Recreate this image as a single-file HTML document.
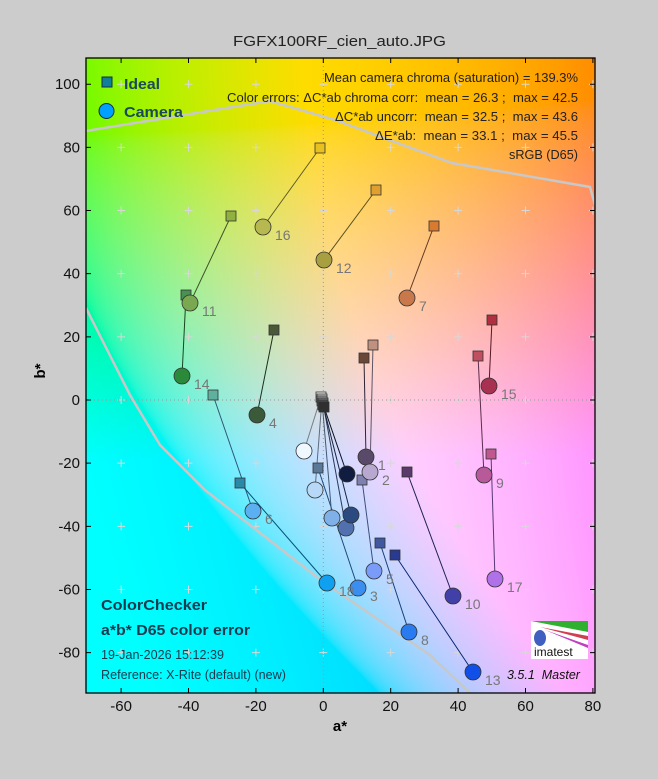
<!DOCTYPE html>
<html><head><meta charset="utf-8"><style>
html,body{margin:0;padding:0;background:#cccccc;}
#wrap{position:relative;width:658px;height:779px;overflow:hidden;font-family:"Liberation Sans",sans-serif;}
#bg{position:absolute;left:86px;top:58px;width:509px;height:635px;
background:linear-gradient(135deg,#80ff20 0%,#f8ff40 30%,#ffe0c0 50%,#ff90ff 100%);}
svg{position:absolute;left:0;top:0;}
svg text{white-space:pre;}
</style></head><body><div id="wrap">
<canvas id="bg" width="509" height="635"></canvas>
<svg width="658" height="779" viewBox="0 0 658 779" font-family="Liberation Sans, sans-serif">
<g id="grid" stroke="#d8d8d8" stroke-width="1"></g>
<line x1="323.3" y1="58" x2="323.3" y2="693" stroke="#999" stroke-dasharray="1,3"/>
<line x1="86" y1="400" x2="595" y2="400" stroke="#999" stroke-dasharray="1,3"/>
<polyline fill="none" stroke="#c8c8c8" stroke-width="2.5" points="86,131 270,101 335,120 452,163 590,187 595,205"/>
<polyline fill="none" stroke="#c8c8c8" stroke-width="2.5" points="86,308 130,395 160,445 205,490 250,525 322,581 430,655 470,693"/>
<g id="data"></g>
<rect x="86" y="58" width="509" height="635" fill="none" stroke="#000" stroke-width="1.3"/>
<g id="ticks" stroke="#000" stroke-width="1"></g>
<g id="tl" font-size="15" fill="#111"></g>
<text x="233" y="46" font-size="15" fill="#222" textLength="213" lengthAdjust="spacingAndGlyphs">FGFX100RF_cien_auto.JPG</text>
<g font-size="13" fill="#222" text-anchor="end">
<text x="578" y="82" textLength="254" lengthAdjust="spacingAndGlyphs">Mean camera chroma (saturation) = 139.3%</text>
<text x="578" y="102" textLength="351" lengthAdjust="spacingAndGlyphs">Color errors: ΔC*ab chroma corr:  mean = 26.3 ;  max = 42.5</text>
<text x="578" y="121" textLength="243" lengthAdjust="spacingAndGlyphs">ΔC*ab uncorr:  mean = 32.5 ;  max = 43.6</text>
<text x="578" y="140" textLength="203" lengthAdjust="spacingAndGlyphs">ΔE*ab:  mean = 33.1 ;  max = 45.5</text>
<text x="578" y="159" textLength="69" lengthAdjust="spacingAndGlyphs">sRGB (D65)</text>
</g>
<rect x="102" y="77" width="10" height="10" fill="#10809a" stroke="#103040"/>
<text x="124" y="89" font-size="15" font-weight="bold" fill="#1a4a5a" textLength="36" lengthAdjust="spacingAndGlyphs">Ideal</text>
<circle cx="106.5" cy="111" r="7.5" fill="#00a0ff" stroke="#103040"/>
<text x="124" y="117" font-size="15" font-weight="bold" fill="#1a4a5a" textLength="59" lengthAdjust="spacingAndGlyphs">Camera</text>
<g fill="#1a3a50">
<text x="101" y="610" font-size="15" font-weight="bold" textLength="106" lengthAdjust="spacingAndGlyphs">ColorChecker</text>
<text x="101" y="635" font-size="15" font-weight="bold" textLength="149" lengthAdjust="spacingAndGlyphs">a*b* D65 color error</text>
<text x="101" y="659" font-size="13" textLength="123" lengthAdjust="spacingAndGlyphs">19-Jan-2026 15:12:39</text>
<text x="101" y="679" font-size="13" textLength="185" lengthAdjust="spacingAndGlyphs">Reference: X-Rite (default) (new)</text>
</g>
<text x="507" y="679" font-size="12.5" font-style="italic" fill="#111">3.5.1  Master</text>
<g>
<rect x="531" y="621" width="57" height="38" fill="#fff"/>
<polygon points="531,621 588,621 588,632" fill="#30b030"/>
<polygon points="540,627 588,636 588,640" fill="#d04050"/>
<polygon points="545,630 588,645 588,648" fill="#c040c0"/>
<ellipse cx="540" cy="638" rx="6" ry="8" fill="#4060c0"/>
<text x="534" y="656" font-size="12" fill="#111">imatest</text>
</g>
<text x="340" y="731" font-size="15" font-weight="bold" text-anchor="middle" fill="#000">a*</text>
<text x="44" y="380" font-size="15" font-weight="bold" text-anchor="middle" fill="#000" transform="rotate(-90 40 375)">b*</text>
</svg>
<script>
var X=function(a){return 323.3+a*67.4/20;},Y=function(b){return 400-b*63.16/20;};
var ns="http://www.w3.org/2000/svg";
function el(p,t,at,txt){var e=document.createElementNS(ns,t);for(var k in at)e.setAttribute(k,at[k]);if(txt)e.textContent=txt;p.appendChild(e);return e;}
var g=document.getElementById('grid');
for(var a=-60;a<=80;a+=20)for(var b=-80;b<=100;b+=20){var x=X(a),y=Y(b);el(g,'path',{d:'M'+(x-4)+' '+y+'h8M'+x+' '+(y-4)+'v8'});}
var tk=document.getElementById('ticks'),tl=document.getElementById('tl');
for(var a=-60;a<=80;a+=20){var x=X(a);el(tk,'path',{d:'M'+x+' 693v-5M'+x+' 58v5'});el(tl,'text',{x:x,y:711,'text-anchor':'middle'},String(a));}
for(var b=-80;b<=100;b+=20){var y=Y(b);el(tk,'path',{d:'M86 '+y+'h5M595 '+y+'h-5'});el(tl,'text',{x:80,y:y+5,'text-anchor':'end'},String(b));}
var D=[
[364,358,366,457,'#6a4838','#5a4a6a','1'],[373,345,370,472,'#c09080','#b8a8d0','2'],
[318,468,358,588,'#5a7898','#3a8ef0','3'],[274,330,257,415,'#4a5a38','#3a5a3a','4'],
[362,480,374,571,'#8080b0','#7a9cf8','5'],[213,395,253,511,'#60b0a0','#5ab0f0','6'],
[434,226,407,298,'#d87a30','#c8784a','7'],[380,543,409,632,'#4058a0','#2a7af0','8'],
[478,356,484,475,'#c05060','#b85a9a','9'],[407,472,453,596,'#5a3a6a','#4040a8','10'],
[231,216,190,303,'#90b040','#7aa850','11'],[376,190,324,260,'#e0a030','#a8a040','12'],
[395,555,473,672,'#2a3a90','#1050e8','13'],[186,295,182,376,'#4a9050','#2a8a3a','14'],
[492,320,489,386,'#b03040','#a83050','15'],[320,148,263,227,'#e8c020','#b8b850','16'],
[491,454,495,579,'#c05890','#b070e8','17'],[240,483,327,583,'#2a88a8','#10a0f0','18'],
[321,397,304,451,'#f4f4f4','#f0f8ff',''],[322,399,315,490,'#c8c8c8','#b8d8f8',''],
[322,401,332,518,'#a0a0a0','#80b0e8',''],[323,403,346,528,'#787878','#5070b0',''],
[323,405,351,515,'#505050','#2a4a80',''],[324,407,347,474,'#303030','#101c40','']];
var dg=document.getElementById('data');
D.forEach(function(d){el(dg,'line',{x1:d[0],y1:d[1],x2:d[2],y2:d[3],stroke:d[5],'stroke-width':1,style:'filter:brightness(0.5)'});});
D.forEach(function(d){el(dg,'rect',{x:d[0]-5,y:d[1]-5,width:10,height:10,fill:d[4],stroke:'#333','stroke-width':0.8});});
D.forEach(function(d){el(dg,'circle',{cx:d[2],cy:d[3],r:8,fill:d[5],stroke:'#333','stroke-width':0.8});if(d[6])el(dg,'text',{x:d[2]+12,y:d[3]+13,'font-size':14,fill:'#777'},d[6]);});
var c=document.getElementById('bg'),ctx=c.getContext('2d'),W=509,H=635,img=ctx.createImageData(W,H);
function f(t){return t>6/29?t*t*t:3*(6/29)*(6/29)*(t-4/29);}
function gm(v){v=v<=0.0031308?12.92*v:1.055*Math.pow(v,1/2.4)-0.055;return Math.max(0,Math.min(255,Math.round(v*255)));}
var L=88;
for(var j=0;j<H;j++)for(var i=0;i<W;i++){
var a=(i+86-323.3)*20/67.4,b=(400-(j+58))*20/63.16;
var fy=(L+16)/116,fx=fy+a/500,fz=fy-b/200;
var xx=0.95047*f(fx),yy=f(fy),zz=1.08883*f(fz);
var r=3.2406*xx-1.5372*yy-0.4986*zz,gg=-0.9689*xx+1.8758*yy+0.0415*zz,bb=0.0557*xx-0.2040*yy+1.0570*zz;
var p=(j*W+i)*4;img.data[p]=gm(r);img.data[p+1]=gm(gg);img.data[p+2]=gm(bb);img.data[p+3]=255;}
ctx.putImageData(img,0,0);
</script>
</div></body></html>
